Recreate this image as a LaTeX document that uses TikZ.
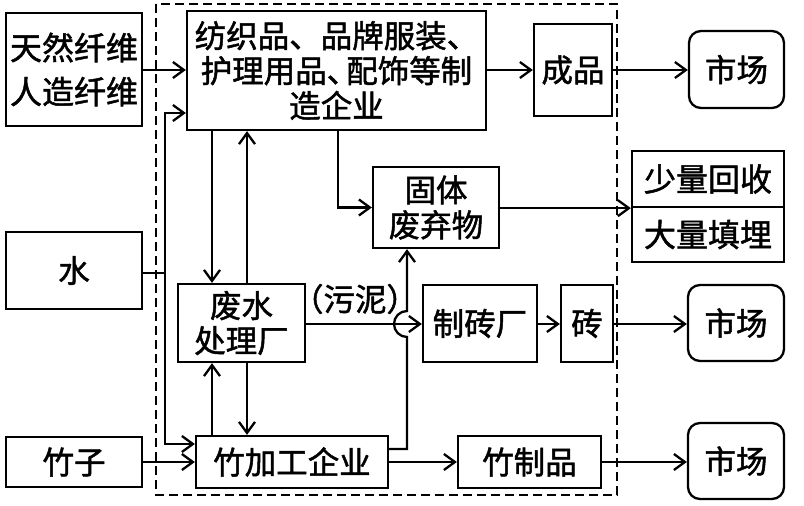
\documentclass[tikz,border=0pt]{standalone}
\usepackage{fontspec}
\newfontfamily\cjk[FakeBold=1.5]{Noto Sans CJK SC}
\usetikzlibrary{arrows.meta}
\begin{document}
\begin{tikzpicture}[x=1pt,y=-1pt,
  box/.style={draw, line width=2.3pt, inner sep=0pt, align=center, font=\cjk\fontsize{31.5}{35}\selectfont},
  mkt/.style={box, rounded corners=12pt},
  arr/.style={line width=2.3pt, -{Straight Barb[length=11pt,width=16pt,line width=2.3pt]}},
  ln/.style={line width=2.3pt},
  dframe/.style={draw, line width=2.6pt, dash pattern=on 9pt off 5pt}
]
\useasboundingbox (0,0) rectangle (804,506);
\draw[dframe] (156,4) rectangle (617,495);

% left inputs
\node[box, minimum width=136pt, minimum height=113pt, font=\cjk\fontsize{32}{44}\selectfont] (tr) at (74,69.5) {天然纤维\\人造纤维};
\node[box, minimum width=136pt, minimum height=77pt] (shui) at (74,270.5) {水};
\node[box, minimum width=136pt, minimum height=50pt] (zz) at (74,462) {竹子};

% inner nodes
\node[box, minimum width=299pt, minimum height=119pt] (mfg) at (336.5,70.5) {纺织品、品牌服装、\\护理用品、\kern-12pt配饰等制\\造企业};
\node[box, minimum width=78pt, minimum height=92pt] (cp) at (573,70) {成品};
\node[box, minimum width=126pt, minimum height=81pt] (gt) at (436,207.5) {固体\\废弃物};
\node[box, minimum width=127pt, minimum height=78pt] (fs) at (241.5,323) {废水\\处理厂};
\node[box, minimum width=114pt, minimum height=77pt] (zzc) at (480,323.5) {制砖厂};
\node[box, minimum width=52pt, minimum height=77pt] (zh) at (587,323.5) {砖};
\node[box, minimum width=192pt, minimum height=52pt] (zjg) at (292,462) {竹加工企业};
\node[box, minimum width=143pt, minimum height=52pt] (zzp) at (529.5,462) {竹制品};
\node[inner sep=0pt, font=\cjk\fontsize{31.5}{35}\selectfont] (wn) at (355,299) {（污泥）};

% right side
\node[mkt, minimum width=95pt, minimum height=77pt] (sc1) at (736.5,69.5) {市场};
\node[box, minimum width=152pt, minimum height=56pt, font=\cjk\fontsize{32}{35}\selectfont] (hs) at (708,179) {少量回收};
\node[box, minimum width=152pt, minimum height=55pt, font=\cjk\fontsize{32}{35}\selectfont] (tm) at (708,234.5) {大量填埋};
\node[mkt, minimum width=96pt, minimum height=76pt] (sc2) at (736,323) {市场};
\node[mkt, minimum width=96pt, minimum height=76pt] (sc3) at (736,461) {市场};

% connectors
\draw[arr] (tr.east |- 0,70) -- (mfg.west |- 0,70);
\coordinate (jw) at (165,273);
\draw[ln] (shui.east |- jw) -- (jw);
\draw[arr] (jw) |- (mfg.west |- 0,113);
\draw[arr] (jw) |- (zjg.west |- 0,444);
\draw[arr] (mfg.south -| 212,0) -- (fs.north -| 212,0);
\draw[arr] (fs.north -| 247,0) -- (mfg.south -| 247,0);
\draw[arr] (zjg.north -| 212,0) -- (fs.south -| 212,0);
\draw[arr] (fs.south -| 247,0) -- (zjg.north -| 247,0);
\draw[arr] (mfg.south -| 338,0) |- (gt.west);
\draw[arr] (gt.east |- hs.south) -- (hs.south west);
\draw[arr] (mfg.east |- 0,70) -- (cp.west |- 0,70);
\draw[arr] (cp.east |- 0,70) -- (sc1.west |- 0,70);
\draw[arr] (fs.east |- 0,324) -- (zzc.west |- 0,324);
\draw[arr] (zzc.east |- 0,324) -- (zh.west |- 0,324);
\draw[arr] (zh.east |- 0,324) -- (sc2.west |- 0,324);
\draw[arr] (zjg.east |- 0,449) -- (407,449) -- (407,337) arc[start angle=270, end angle=90, radius=13pt] -- (gt.south -| 407,0);
\draw[arr] (zjg.east |- 0,462) -- (zzp.west |- 0,462);
\draw[arr] (zzp.east |- 0,462) -- (sc3.west |- 0,462);
\draw[arr] (zz.east |- 0,462) -- (zjg.west |- 0,462);
\end{tikzpicture}
\end{document}
